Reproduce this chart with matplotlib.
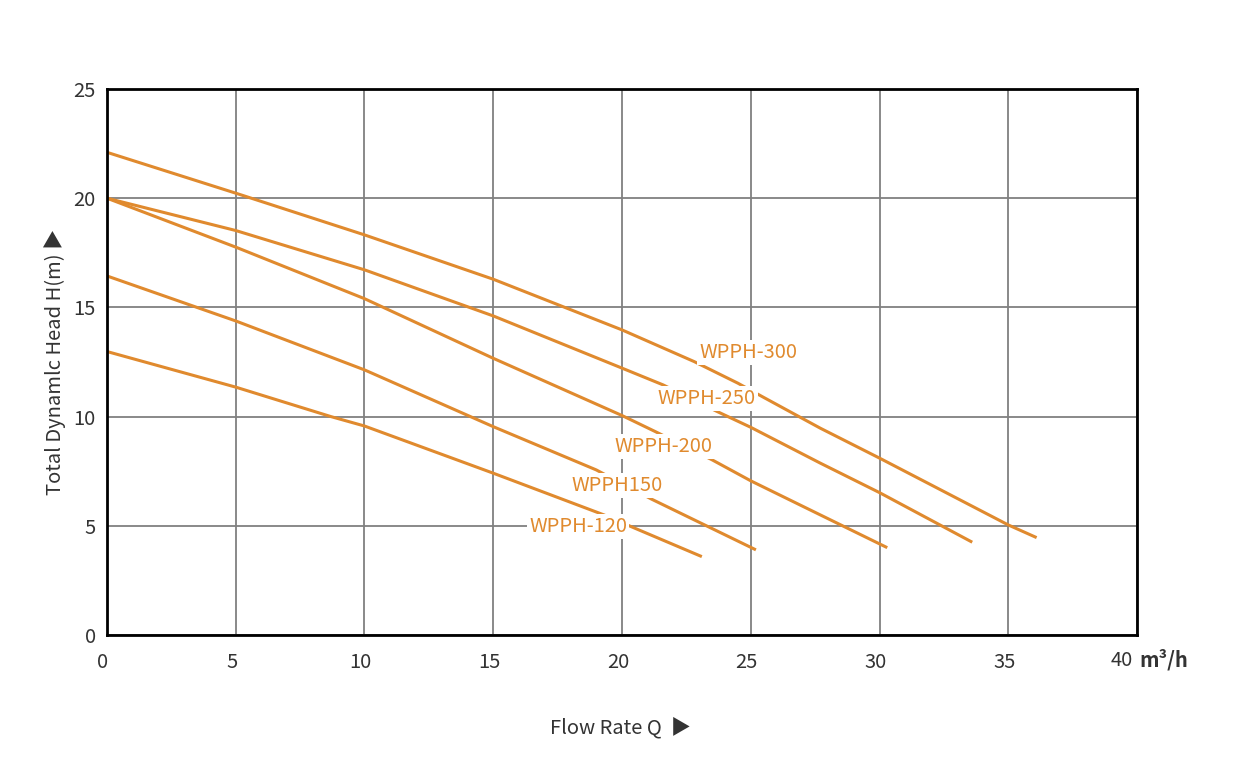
import numpy as np
import matplotlib.pyplot as plt
import matplotlib.transforms as mtransforms

plt.rcParams['font.family'] = ['Noto Sans CJK SC', 'DejaVu Sans']

# flow rate (m3/h) and head (m)
q_300 = [0, 5, 10, 15, 20, 22.8, 24.5, 25.5, 27.7, 30, 35, 36.1]
h_300 = [22.1, 20.23, 18.32, 16.29, 13.97, 12.52, 11.53, 10.88, 9.47, 8.1, 5.04, 4.46]

q_250 = [0, 5, 10, 15, 20, 21.6, 23.7, 25, 27.7, 30, 33.6]
h_250 = [20.0, 18.52, 16.72, 14.61, 12.22, 11.45, 10.23, 9.51, 7.87, 6.52, 4.25]

q_200 = [0, 5, 10, 15, 20, 21.3, 23.5, 25, 27.7, 30.3]
h_200 = [20.0, 17.76, 15.4, 12.67, 10.05, 9.31, 8.02, 7.06, 5.5, 4.0]

q_150 = [0, 5, 10, 15, 19.0, 21.15, 25.2]
h_150 = [16.44, 14.38, 12.14, 9.54, 7.56, 6.22, 3.9]

q_120 = [0, 5, 8.7, 10, 15, 19.3, 20.5, 23.1]
h_120 = [12.98, 11.35, 10.0, 9.57, 7.41, 5.5, 4.89, 3.59]

names = ['WPPH-300', 'WPPH-250', 'WPPH-200', 'WPPH150', 'WPPH-120']
label_q = [24.9, 23.3, 21.6, 19.8, 18.3]
label_h = [12.95, 10.85, 8.65, 6.85, 4.95]

orange = '#E08A2E'
dark = '#333333'

fig = plt.figure(figsize=(12.45, 7.75), dpi=100)
ax = fig.add_axes([0.0859, 0.1806, 0.8274, 0.7046])

curves = [(q_300, h_300), (q_250, h_250), (q_200, h_200), (q_150, h_150), (q_120, h_120)]
for q, h in curves:
    ax.plot(q, h, color=orange, lw=2.2, solid_capstyle='butt', solid_joinstyle='round', zorder=3)

for name, x, y in zip(names, label_q, label_h):
    ax.text(x, y, name, color=orange, fontsize=14.5, ha='center', va='center', zorder=4,
            bbox=dict(facecolor='white', edgecolor='none', pad=1.5))

ax.set_xlim(0, 40)
ax.set_ylim(0, 25)
ax.set_xticks(range(0, 45, 5))
ax.set_xticklabels(['0', '5', '10', '15', '20', '25', '30', '35', ''])
ax.set_yticks(range(0, 30, 5))
ax.grid(True, color='#808080', lw=1.3, zorder=1)
ax.set_axisbelow(True)
ax.tick_params(length=0, labelsize=14.5, labelcolor=dark)
ax.tick_params(axis='x', pad=12)
ax.tick_params(axis='y', pad=8)
shift = mtransforms.ScaledTranslation(-4 / 100, 0, fig.dpi_scale_trans)
for lab in ax.get_xticklabels():
    lab.set_transform(lab.get_transform() + shift)
for s in ax.spines.values():
    s.set_color('black')
    s.set_linewidth(2)
    s.set_zorder(5)

fig.text(1122 / 1245, 1 - 660 / 775, '40', fontsize=14.5, color=dark, ha='center', va='center')
fig.text(1139 / 1245, 1 - 660 / 775, 'm³/h', fontsize=14.5, fontweight='bold', color=dark,
         ha='left', va='center')
fig.text(620 / 1245, 1 - 728 / 775, 'Flow Rate Q  ▶', fontsize=14.5, color=dark,
         ha='center', va='center')
fig.text(55 / 1245, 1 - 362 / 775, 'Total Dynamlc Head H(m) ▶', fontsize=14.5, color=dark,
         ha='center', va='center', rotation=90)

fig.savefig('out.png', dpi=100)
